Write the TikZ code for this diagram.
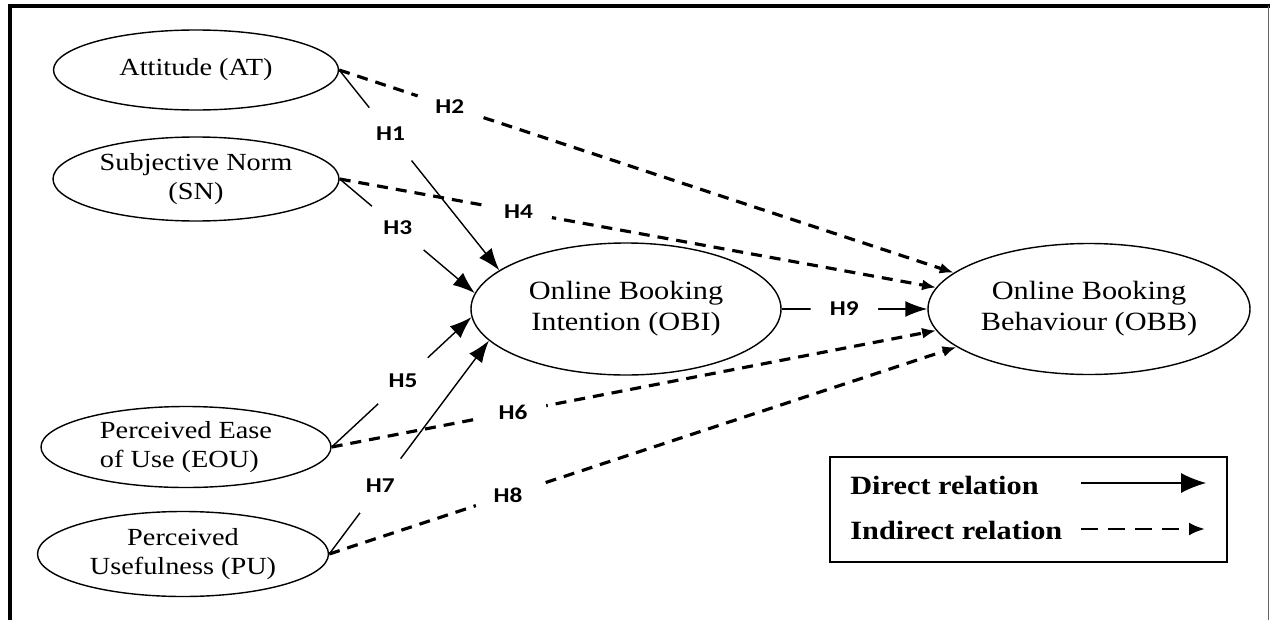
\documentclass[tikz,border=0pt]{standalone}
\usepackage{fontspec}
\setmainfont{Liberation Serif}[FakeStretch=1.15]
\newfontfamily\hypfont{Carlito}[FakeStretch=1.2]
\usetikzlibrary{shapes.geometric, arrows.meta}
\tikzstyle{construct} = [ellipse, draw=black, thick,
  inner sep=0pt, align=center,
  font=\fontsize{14}{16.4}\selectfont]
\tikzstyle{outcome} = [ellipse, draw=black, thick,
  inner sep=0pt, align=center,
  font=\fontsize{15}{17.6}\selectfont]
\tikzstyle{direct} = [line width=0.8pt,
  -{Latex[length=4.4mm,width=3.2mm]}]
\tikzstyle{indirect} = [line width=1.8pt, dash pattern=on 2.2mm off 1.6mm,
  -{Latex[length=2.8mm,width=2.2mm]}]
\tikzstyle{hyp} = [circle, fill=white, minimum size=13.5mm, inner sep=0pt,
  font=\hypfont\bfseries\fontsize{12}{14}\selectfont]
\tikzstyle{legtext} = [anchor=west, inner sep=0pt,
  font=\bfseries\fontsize{15}{18}\selectfont]

\begin{document}
\begin{tikzpicture}[x=0.2mm, y=-0.2mm]
\useasboundingbox (0,0) rectangle (1270,620);

%% ---- FRAME ----
\draw[line width=2.2pt] (10,620) -- (10,6) -- (1270,6);
\draw[line width=0.5pt, black!60] (1268,6) -- (1268,620);

%% ---- CONSTRUCTS ----
\node (at)  [construct, minimum width=57mm, minimum height=16mm] at (196,70)
  {Attitude (AT)};
\node (sn)  [construct, minimum width=57.2mm, minimum height=16.8mm] at (196,179)
  {Subjective Norm\\(SN)};
\node (eou) [construct, minimum width=58mm, minimum height=16.2mm, align=left] at (186,447)
  {Perceived Ease\\of Use (EOU)};
\node (pu)  [construct, minimum width=58.2mm, minimum height=17mm] at (183,554)
  {Perceived\\Usefulness (PU)};

\node (obi) [outcome, minimum width=62mm, minimum height=26.4mm] at (626,309)
  {Online Booking\\Intention (OBI)};
\node (obb) [outcome, minimum width=64.4mm, minimum height=26.2mm] at (1089,309)
  {Online Booking\\Behaviour (OBB)};

%%=============================================================
%% HYPOTHESES
%%  direct   : H1 H3 H5 H7 -> OBI, H9 OBI -> OBB
%%  indirect : H2 H4 H6 H8 -> OBB
%%=============================================================
\draw[indirect] (at.east)  -- node[hyp, pos=0.18]{H2} (obb.165);
\draw[indirect] (sn.east)  -- node[hyp, pos=0.30]{H4} (obb.172);
\draw[indirect] (eou.east) -- node[hyp, pos=0.30]{H6} (obb.188);
\draw[indirect] (pu.east)  -- node[hyp, pos=0.285]{H8} (obb.196);

\draw[direct] (at.east)  -- node[hyp, pos=0.32]{H1} (obi.163);
\draw[direct] (sn.east)  -- node[hyp, pos=0.43]{H3} (obi.174);
\draw[direct] (eou.east) -- node[hyp, pos=0.51]{H5} (obi.183);
\draw[direct] (pu.east)  -- node[hyp, pos=0.32]{H7} (obi.193);
\draw[direct] (obi.east) -- node[hyp, pos=0.43]{H9} (obb.west);

%% ---- LEGEND ----
\node (legend) [draw, line width=0.6pt, minimum width=79.4mm,
  minimum height=21mm, inner sep=0pt] at (1028.5,509.5) {};
\node (dirtxt) [legtext] at (850,485) {Direct relation};
\node (indtxt) [legtext] at (850,530) {Indirect relation};
\coordinate (dir_a) at (1081,483);
\coordinate (dir_b) at (1206,483);
\coordinate (ind_a) at (1081,529);
\coordinate (ind_b) at (1205,529);
\draw[line width=0.6pt, -{Latex[length=5mm,width=4mm]}] (dir_a) -- (dir_b);
\draw[line width=1.6pt, dash pattern=on 3.4mm off 2mm,
  -{Latex[length=3.2mm,width=2.6mm]}] (ind_a) -- (ind_b);

\end{tikzpicture}
\end{document}
